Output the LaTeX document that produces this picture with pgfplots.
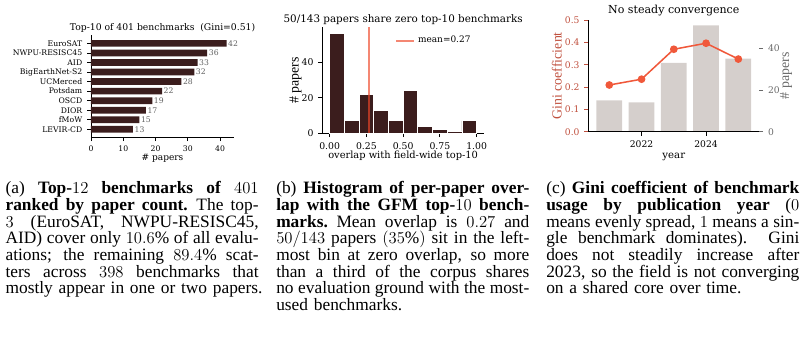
\documentclass[border=0pt]{standalone}
\usepackage{fontspec}
\setmainfont{Liberation Serif}
\newfontfamily\plotfont{DejaVu Serif}
\usepackage{pgfplots}
\pgfplotsset{compat=1.18}

\definecolor{bardark}{RGB}{59,29,29}
\definecolor{valgray}{RGB}{95,95,95}
\definecolor{meanred}{RGB}{238,70,40}
\definecolor{ginibar}{RGB}{213,207,204}
\definecolor{giniline}{RGB}{240,88,58}
\definecolor{ginilabel}{RGB}{192,80,62}
\definecolor{axgray}{RGB}{105,105,105}

\newcommand\pfs[1]{\plotfont\fontsize{#1}{#1}\selectfont}
% one justified caption line, and the last (natural width) line
\newcommand\jl[1]{\hbox to\hsize{\spaceskip=0.25em plus 0.3em minus 0.12em #1}}
\newcommand\caplast[1]{\hbox{#1}}

\pgfplotsset{
  panel/.style n args={3}{% tick size, label size, title size
    scale only axis,
    anchor=south west,
    /pgf/number format/assume math mode=true,
    tick label style={font=\pfs{#1}},
    label style={font=\pfs{#2}},
    every axis title/.style={font=\pfs{#3}, anchor=base},
    every axis title shift=0pt,
    tick align=outside,
    major tick length=2.8pt,
    axis line style={line width=0.6pt, -},
    every tick/.style={black, line width=0.6pt},
  },
}

\begin{document}
\begin{tikzpicture}[x=0.72pt, y=0.72pt]
\path[use as bounding box] (0,0) rectangle (808,341);

% (a) most used benchmarks
\begin{axis}[panel={5.55}{6.5}{6.65}, at={(65.52pt,146.66pt)}, width=102.96pt, height=73.37pt,
  xmin=0, xmax=44.3, ymin=-0.835, ymax=9.835,
  axis x line*=bottom, axis y line*=left,
  xtick={0,10,20,30,40},
  ytick={0,1,...,9},
  yticklabels={LEVIR-CD,fMoW,DIOR,OSCD,Potsdam,UCMerced,BigEarthNet-S2,AID,NWPU-RESISC45,EuroSAT},
  title={Top-10 of 401 benchmarks\ \ (Gini=0.51)},
  title style={at={(axis description cs:0.5,1.046)}},
  xlabel={\# papers},
  xlabel style={at={(axis description cs:0.5,-0.223)}, anchor=base},
]
\addplot[xbar, bar shift=0pt, bar width=0.7, fill=bardark, draw=none,
  point meta=x, nodes near coords,
  nodes near coords style={anchor=west, inner sep=1pt, text=valgray, font=\pfs{5.55}}]
  coordinates {(13,0) (15,1) (17,2) (19,3) (22,4) (28,5) (32,6) (33,7) (36,8) (42,9)};
\end{axis}

% (b) overlap histogram
\begin{axis}[panel={6.7}{7.1}{7.46}, at={(232.06pt,149.54pt)}, width=116.4pt, height=76.3pt,
  xmin=-0.05, xmax=1.05, ymin=0, ymax=59.4,
  axis x line*=bottom, axis y line*=left,
  xtick={0,0.25,0.5,0.75,1},
  xticklabel style={/pgf/number format/.cd, fixed, fixed zerofill, precision=2},
  ytick={0,20,40},
  title={50/143 papers share zero top-10 benchmarks},
  title style={at={(axis description cs:0.5,1.045)}},
  xlabel={overlap with field-wide top-10},
  xlabel style={at={(axis description cs:0.5,-0.236)}, anchor=base},
  ylabel={\# papers},
  every axis y label/.style={at={(axis description cs:-0.146,0.5)}, anchor=base, rotate=90},
  legend style={at={(axis description cs:0.45,0.874)}, anchor=west, draw=none, fill=none,
    font=\pfs{6.45}, inner sep=0pt},
  legend cell align=left,
  legend image code/.code={\draw[#1] (0pt,0pt) -- (13pt,0pt);},
]
\addplot[ybar, bar shift=0pt, bar width=0.1, fill=bardark, draw=white, line width=0.5pt, forget plot]
  coordinates {(0.05,56) (0.15,7) (0.25,22) (0.35,13) (0.45,7) (0.55,24) (0.65,4) (0.75,2) (0.85,1) (0.95,7)};
\addplot[meanred, opacity=0.65, line width=1.4pt] coordinates {(0.27,0) (0.27,59.4)};
\addlegendentry{mean=0.27}
\end{axis}

% (c) papers per year (bars, right axis)
\begin{axis}[panel={6.6}{7.3}{7.95}, at={(423.58pt,150.70pt)}, width=123.12pt, height=80.42pt,
  xmin=2020.35, xmax=2025.65, ymin=0, ymax=53.55,
  hide x axis, axis y line*=right, y axis line style={draw=none},
  ytick={0,20,40},
  yticklabel style={text=axgray}, y tick style={axgray},
  ylabel={\# papers},
  every axis y label/.style={at={(axis description cs:1.174,0.5)}, anchor=base, rotate=90, text=axgray},
]
\addplot[ybar, bar shift=0pt, bar width=0.8, fill=ginibar, draw=none]
  coordinates {(2021,15) (2022,14) (2023,33) (2024,51) (2025,35)};
\end{axis}

% (c) Gini per year (line, left axis)
\begin{axis}[panel={6.6}{7.3}{7.95}, at={(423.58pt,150.70pt)}, width=123.12pt, height=80.42pt,
  xmin=2020.35, xmax=2025.65, ymin=0, ymax=0.5,
  axis x line*=bottom, axis y line*=left,
  xtick={2022,2024},
  xticklabel style={/pgf/number format/1000 sep={}},
  ytick={0,0.1,0.2,0.3,0.4,0.5},
  yticklabel style={text=ginilabel, /pgf/number format/.cd, fixed, fixed zerofill, precision=1},
  y tick style={ginilabel},
  title={No steady convergence},
  title style={at={(axis description cs:0.5,1.056)}},
  xlabel={year},
  xlabel style={at={(axis description cs:0.5,-0.238)}, anchor=base},
  ylabel={Gini coefficient},
  every axis y label/.style={at={(axis description cs:-0.156,0.5)}, anchor=base, rotate=90, text=ginilabel},
]
\addplot[giniline, line width=1.1pt, mark=*, mark size=2.2pt,
  mark options={solid, fill=giniline, draw=giniline}]
  coordinates {(2021,0.209) (2022,0.235) (2023,0.369) (2024,0.396) (2025,0.325)};
\end{axis}

% captions
\begin{scope}[every node/.style={anchor=north west, inner sep=0pt, text width=182.2pt,
    font=\fontsize{12.5}{12}\selectfont}]
\node at (5.3,159.5) {%
  \jl{(a) \textbf{Top-}$12$ \textbf{benchmarks of} $401$}
  \jl{\textbf{ranked by paper count.} The top-}
  \jl{$3$ (EuroSAT, NWPU-RESISC45,}
  \jl{AID) cover only $10.6\%$ of all evalu-}
  \jl{ations; the remaining $89.4\%$ scat-}
  \jl{ters across $398$ benchmarks that}
  \caplast{mostly appear in one or two papers.}};
\node at (276,159.5) {%
  \jl{(b) \textbf{Histogram of per-paper over-}}
  \jl{\textbf{lap with the GFM top-}$10$ \textbf{bench-}}
  \jl{\textbf{marks.} Mean overlap is $0.27$ and}
  \jl{$50/143$ papers $(35\%)$ sit in the left-}
  \jl{most bin at zero overlap, so more}
  \jl{than a third of the corpus shares}
  \jl{no evaluation ground with the most-}
  \caplast{used benchmarks.}};
\node at (546,159.5) {%
  \jl{(c) \textbf{Gini coefficient of benchmark}}
  \jl{\textbf{usage by publication year} ($0$}
  \jl{means evenly spread, $1$ means a sin-}
  \jl{gle benchmark dominates).\ \ Gini}
  \jl{does not steadily increase after}
  \jl{2023, so the field is not converging}
  \caplast{on a shared core over time.}};
\end{scope}
\end{tikzpicture}
\end{document}
